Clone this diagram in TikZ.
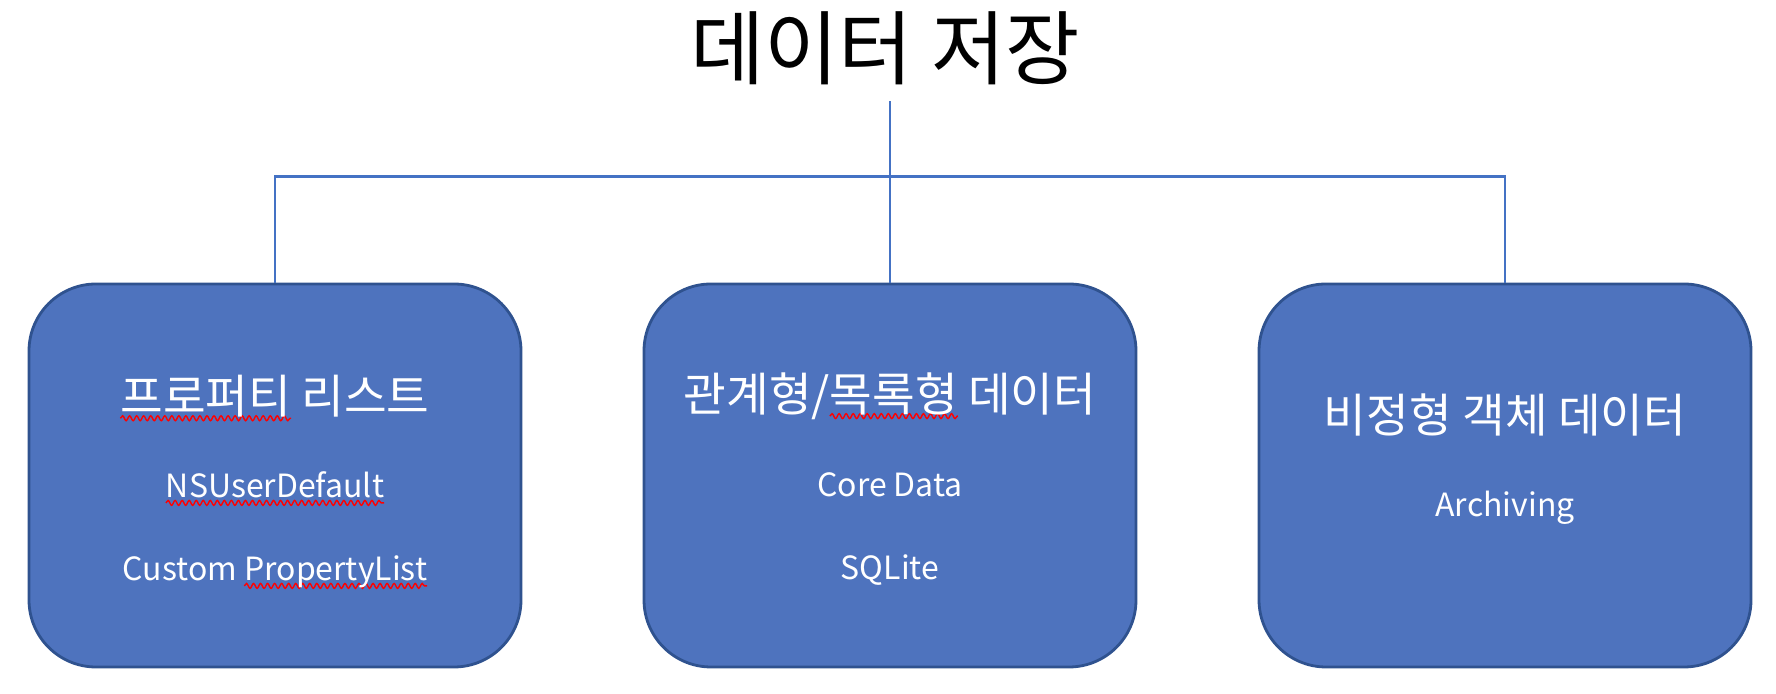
\documentclass[tikz,border=0pt]{standalone}
\usepackage{fontspec}
\newfontfamily\krfont{Noto Sans CJK KR}
\usetikzlibrary{decorations.pathmorphing}

\newlength\wavylen
\newcommand{\wavy}[1]{\settowidth\wavylen{#1}\rlap{\tikz[overlay]\draw[red,line width=0.4pt,decorate,decoration={snake,amplitude=0.7pt,segment length=2pt}] (0,-1.4pt) -- (\wavylen,-1.4pt);}#1}

\begin{document}
\begin{tikzpicture}[
  storebox/.style={shape=rectangle,draw=store_line,fill=store_fill,line width=0.8pt,rounded corners=0.67cm,minimum width=4.92cm,minimum height=3.83cm},
  headtext/.style={text=white,font=\krfont\fontsize{13.2}{15}\selectfont},
  itemtext/.style={text=white,anchor=base,font=\krfont\fontsize{9.1}{11}\selectfont},
  link/.style={draw=store_link,line width=0.75pt}]
\definecolor{store_fill}{RGB}{78,115,190}
\definecolor{store_line}{RGB}{47,82,143}
\definecolor{store_link}{RGB}{68,114,196}
\useasboundingbox (0,0) rectangle (17.76,6.94);

\node[font=\krfont\fontsize{23}{27}\selectfont] (title) at (8.85,6.46) {데이터 저장};

\node[storebox] (plist) at (2.75,2.185) {};
\node[storebox] (reldb) at (8.90,2.185) {};
\node[storebox] (objdb) at (15.05,2.185) {};

\node[headtext] (plist_head) at (2.75,2.98) {\wavy{프로퍼티} 리스트};
\node[itemtext] (plist_a) at (2.75,1.96) {\wavy{NSUserDefault}};
\node[itemtext] (plist_b) at (2.75,1.13) {Custom \wavy{PropertyList}};

\node[headtext] (reldb_head) at (8.90,2.98) {관계형/\wavy{목록형} 데이터};
\node[itemtext] (reldb_a) at (8.90,1.97) {Core Data};
\node[itemtext] (reldb_b) at (8.90,1.14) {SQLite};

\node[headtext] (objdb_head) at (15.05,2.79) {비정형 객체 데이터};
\node[itemtext] (objdb_a) at (15.05,1.77) {Archiving};

\draw[link] (reldb.north) -- ++(0,1.82);
\draw[link] (plist.north) -- ++(0,1.06) -| (objdb.north);
\end{tikzpicture}
\end{document}
